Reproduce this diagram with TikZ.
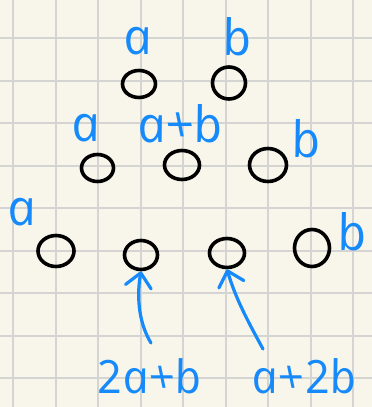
\documentclass[tikz,border=0pt]{standalone}
\usepackage{fontspec}
\newfontfamily\hand{Open Sans}[ItalicFeatures={FakeSlant=-0.2}]
\usetikzlibrary{arrows.meta,shapes.geometric}
\definecolor{paper}{RGB}{248,246,234}
\definecolor{gridc}{RGB}{212,212,210}
\definecolor{ink}{RGB}{22,138,250}
\tikzset{
  dot/.style={draw=black, line width=3.6pt, ellipse, inner sep=0pt},
  lbl/.style={text=ink, font=\hand\itshape\fontsize{50}{50}\selectfont, anchor=base, inner sep=0pt, text depth=0pt},
  small lbl/.style={lbl, font=\hand\itshape\fontsize{46}{46}\selectfont},
  pointer/.style={draw=ink, line width=3.2pt, line cap=round, -{Straight Barb[length=14pt,width=26pt,line width=3.2pt,round]}},
}
\begin{document}
\begin{tikzpicture}[x=1pt,y=-1pt]
\fill[paper] (0,0) rectangle (372,407);
\useasboundingbox (0,0) rectangle (372,407);
\foreach \k in {0,...,8}{
  \draw[gridc, line width=2pt] ({13.3+42.5*\k},0) -- ({13.3+42.5*\k},407);
  \draw[gridc, line width=2pt] (0,{38.3+42.5*\k}) -- (372,{38.3+42.5*\k});
}
% circles
\node[dot, minimum width=33pt, minimum height=27pt] (c1) at (139,84) {};
\node[dot, minimum width=33pt, minimum height=32pt] (c2) at (229,83) {};
\node[dot, minimum width=32pt, minimum height=27pt] (c3) at (97.5,168) {};
\node[dot, minimum width=35pt, minimum height=29pt] (c4) at (182,165) {};
\node[dot, minimum width=37pt, minimum height=33pt] (c5) at (268,165) {};
\node[dot, minimum width=36pt, minimum height=31pt] (c6) at (56,251) {};
\node[dot, minimum width=33pt, minimum height=29pt] (c7) at (141,255) {};
\node[dot, minimum width=35pt, minimum height=29pt] (c8) at (227,253) {};
\node[dot, minimum width=35pt, minimum height=37pt] (c9) at (312,248) {};
% labels
\node[lbl] (la1) at (141,54) {a};
\node[lbl] (lb1) at (240,55) {b};
\node[lbl] (la2) at (89,141) {a};
\node[lbl] (lab) at (183,142) {a+b};
\node[lbl] (lb2) at (309,157) {b};
\node[lbl] (la3) at (25,225) {a};
\node[lbl] (lb3) at (355,250) {b};
\node[small lbl] (l2ab) at (152,393) {2a+b};
\node[small lbl] (la2b) at (307,393) {a+2b};
% arrows
\coordinate (t1) at (151,343);
\coordinate (t2) at (263,349);
\draw[pointer] (t1) .. controls (140,325) and (136,300) .. (c7.south);
\draw[pointer] (t2) .. controls (250,325) and (236,300) .. (c8.south);
\end{tikzpicture}
\end{document}
